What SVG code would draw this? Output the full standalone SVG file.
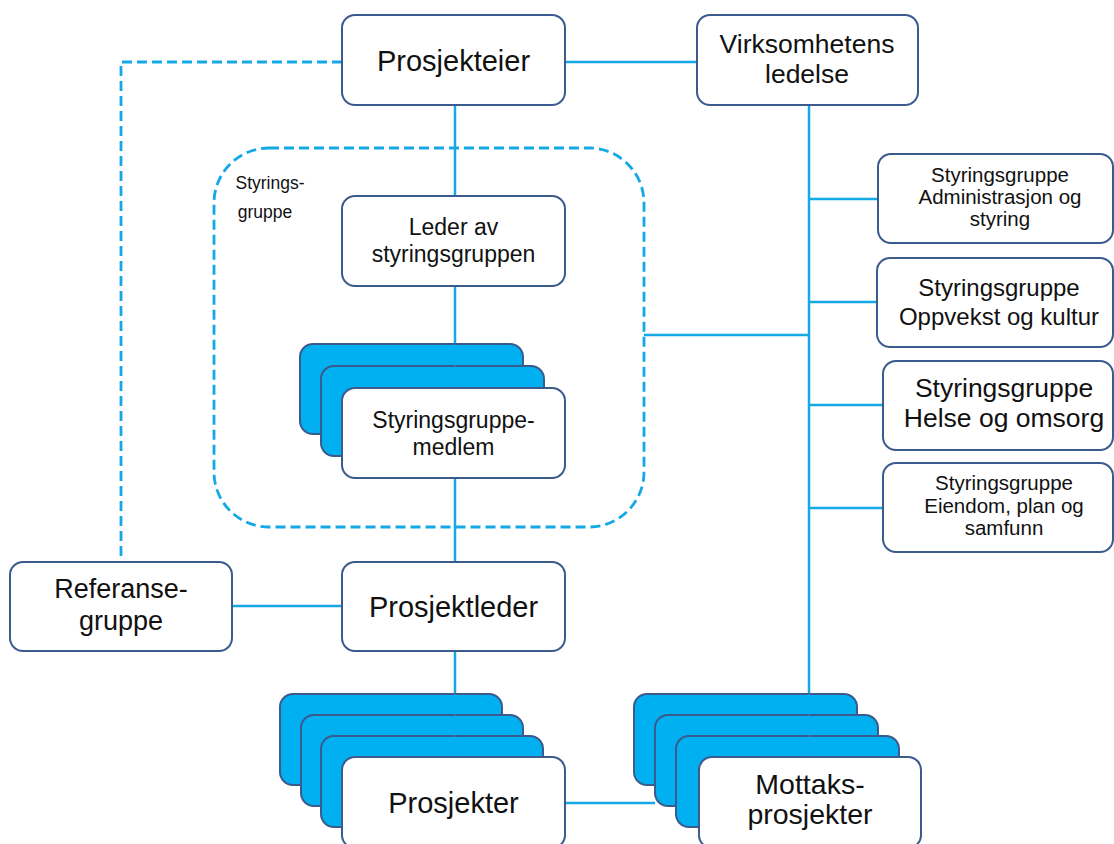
<svg xmlns="http://www.w3.org/2000/svg" width="1114" height="844" viewBox="0 0 1114 844">
  <style>
    .box { fill: #ffffff; stroke: #3b5a8e; stroke-width: 2; }
    .back { fill: #00b0f0; stroke: #3b5a8e; stroke-width: 2; }
    .line { fill: none; stroke: #14a9e6; stroke-width: 2.5; }
    .dash { fill: none; stroke: #14a9e6; stroke-width: 2.8; stroke-dasharray: 10 5; }
    text { font-family: "Liberation Sans", Arial, sans-serif; fill: #111111; text-anchor: middle; }
  </style>
  <rect width="1114" height="844" fill="#ffffff"/>

  <!-- connectors -->
  <g id="connectors">
    <path class="dash" d="M342 62 H121 V562"/>
    <path class="dash" d="M269 148 H589 A55 55 0 0 1 644 203 V472 A55 55 0 0 1 589 527 H269 A55 55 0 0 1 214 472 V203 A55 55 0 0 1 269 148 Z"/>
    <path class="line" d="M565 62 H697"/>
    <path class="line" d="M455 105 V196"/>
    <path class="line" d="M455 286 V562"/>
    <path class="line" d="M455 651 V757"/>
    <path class="line" d="M232 606 H342"/>
    <path class="line" d="M809 105 V757"/>
    <path class="line" d="M644 335 H809"/>
    <path class="line" d="M809 199 H878"/>
    <path class="line" d="M809 302 H878"/>
    <path class="line" d="M809 405 H883"/>
    <path class="line" d="M809 508 H883"/>
    <path class="line" d="M565 803 H655"/>
  </g>

  <g id="container-label">
    <text x="270" y="189" font-size="17.5">Styrings-</text>
    <text x="265" y="218" font-size="17.5">gruppe</text>
  </g>

  <g id="prosjekteier">
    <rect class="box" x="342" y="15" width="223" height="90" rx="13"/>
    <text x="453.5" y="71" font-size="29">Prosjekteier</text>
  </g>

  <g id="virksomhetens-ledelse">
    <rect class="box" x="697" y="15" width="221" height="90" rx="13"/>
    <text x="807" y="53" font-size="26.5">Virksomhetens</text>
    <text x="807" y="83" font-size="26.5">ledelse</text>
  </g>

  <g id="leder-av-styringsgruppen">
    <rect class="box" x="342" y="196" width="223" height="90" rx="13"/>
    <text x="453.5" y="235" font-size="23">Leder av</text>
    <text x="453.5" y="262" font-size="23">styringsgruppen</text>
  </g>

  <g id="styringsgruppemedlem">
    <rect class="back" x="300" y="344" width="223" height="90" rx="13"/>
    <rect class="back" x="321" y="366" width="223" height="90" rx="13"/>
    <path class="line" d="M455 344 V388" opacity="0.35"/>
    <rect class="box" x="342" y="388" width="223" height="90" rx="13"/>
    <text x="453.5" y="428" font-size="23">Styringsgruppe-</text>
    <text x="453.5" y="455" font-size="23">medlem</text>
  </g>

  <g id="sg-administrasjon">
    <rect class="box" x="878" y="154" width="235" height="89" rx="13"/>
    <text x="1000" y="182" font-size="20.5">Styringsgruppe</text>
    <text x="1000" y="204" font-size="20.5">Administrasjon og</text>
    <text x="1000" y="226" font-size="20.5">styring</text>
  </g>

  <g id="sg-oppvekst">
    <rect class="box" x="877" y="258" width="236" height="89" rx="13"/>
    <text x="999" y="296" font-size="24">Styringsgruppe</text>
    <text x="999" y="325" font-size="24">Oppvekst og kultur</text>
  </g>

  <g id="sg-helse">
    <rect class="box" x="883" y="361" width="230" height="89" rx="13"/>
    <text x="1004" y="397" font-size="26.5">Styringsgruppe</text>
    <text x="1004" y="427" font-size="26.5">Helse og omsorg</text>
  </g>

  <g id="sg-eiendom">
    <rect class="box" x="883" y="463" width="230" height="89" rx="13"/>
    <text x="1004" y="490" font-size="20.5">Styringsgruppe</text>
    <text x="1004" y="513" font-size="20.5">Eiendom, plan og</text>
    <text x="1004" y="535" font-size="20.5">samfunn</text>
  </g>

  <g id="referansegruppe">
    <rect class="box" x="10" y="562" width="222" height="89" rx="13"/>
    <text x="121" y="598" font-size="27">Referanse-</text>
    <text x="121" y="630" font-size="27">gruppe</text>
  </g>

  <g id="prosjektleder">
    <rect class="box" x="342" y="562" width="223" height="89" rx="13"/>
    <text x="453.5" y="617" font-size="29">Prosjektleder</text>
  </g>

  <g id="prosjekter">
    <rect class="back" x="280" y="694" width="222" height="91" rx="13"/>
    <rect class="back" x="301" y="715" width="222" height="91" rx="13"/>
    <rect class="back" x="321" y="736" width="222" height="91" rx="13"/>
    <path class="line" d="M455 694 V757" opacity="0.35"/>
    <rect class="box" x="342" y="757" width="223" height="91" rx="13"/>
    <text x="453.5" y="813" font-size="29">Prosjekter</text>
  </g>

  <g id="mottaksprosjekter">
    <rect class="back" x="634" y="694" width="223" height="91" rx="13"/>
    <rect class="back" x="655" y="715" width="223" height="91" rx="13"/>
    <rect class="back" x="676" y="736" width="223" height="91" rx="13"/>
    <path class="line" d="M809 694 V757" opacity="0.35"/>
    <rect class="box" x="699" y="757" width="222" height="91" rx="13"/>
    <text x="810" y="794" font-size="28.5">Mottaks-</text>
    <text x="810" y="824" font-size="28.5">prosjekter</text>
  </g>
</svg>
